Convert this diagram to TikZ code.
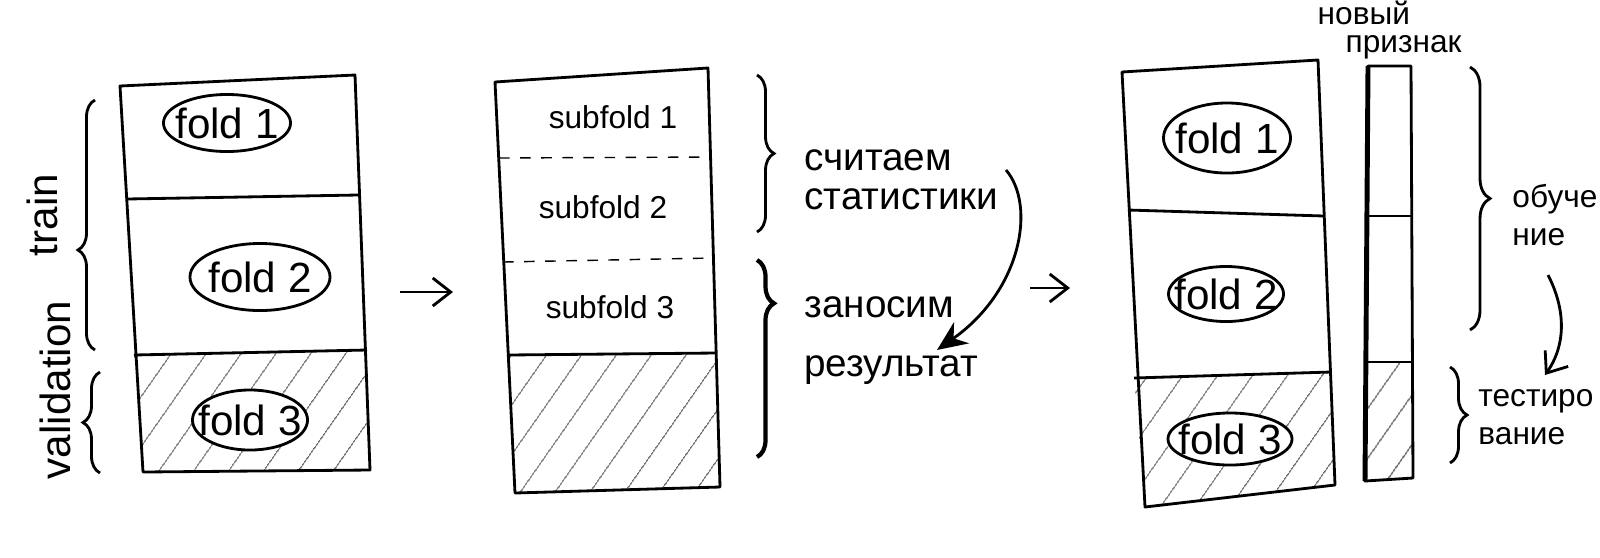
\documentclass[tikz,border=0pt]{standalone}
\usepackage{fontspec}
\setmainfont{Liberation Sans}
\usetikzlibrary{shapes.geometric, decorations.pathreplacing, patterns.meta, arrows.meta}

\begin{document}
\begin{tikzpicture}[x=0.01cm, y=-0.01cm, >={Straight Barb[length=1.8mm,width=2.8mm]},
  box/.style={thick, line join=round},
  fold/.style={draw, thick, ellipse, fill=white, inner sep=0pt, font=\fontsize{12}{12}\selectfont},
  sub/.style={font=\fontsize{9}{9}\selectfont},
  note/.style={font=\fontsize{11}{11}\selectfont, align=left, anchor=west},
  side/.style={font=\fontsize{12}{12}\selectfont, rotate=90},
  hatch/.style={pattern={Lines[angle=55,distance=2.8mm,line width=0.4pt]}, pattern color=black!60},
  curly/.style={thick, decorate, decoration={brace, amplitude=#1}},
  curly/.default=1.7mm]
\useasboundingbox (0,0) rectangle (1600,557);
% left: train / validation split
\fill[hatch] (134,355) -- (367,350) -- (370,470) -- (143,472) -- cycle;
\draw[box] (120,86) -- (355,75) -- (370,470) -- (143,472) -- cycle;
\draw[box] (127,199) -- (358,195);
\draw[box] (134,355) -- (367,350);
\node[fold, minimum width=1.27cm, minimum height=0.57cm] (lf1) at (227,123) {\makebox[0pt]{fold 1}};
\node[fold, minimum width=1.40cm, minimum height=0.67cm] (lf2) at (260,277) {\makebox[0pt]{fold 2}};
\node[fold, minimum width=1.15cm, minimum height=0.60cm] (lf3) at (250,420) {\makebox[0pt]{fold 3}};
\draw[curly, decoration={aspect=0.4}] (95,350) -- (95,100);
\draw[curly] (100,473) -- (100,372);
\node[side] (tr) at (42,215) {train};
\node[side] (val) at (55,390) {validation};
% arrow to the middle panel
\coordinate (a1s) at (400,292);
\coordinate (a1e) at (453,292);
\draw[->, thick] (a1s) -- (a1e);
% middle: subfolds of the train part
\fill[hatch] (508,355) -- (716,353) -- (720,487) -- (515,493) -- cycle;
\draw[box] (495,82) -- (708,68) -- (720,487) -- (515,493) -- cycle;
\draw[dashed] (499,158) -- (711,157);
\draw[dashed] (503,262) -- (713,258);
\draw[box] (508,355) -- (716,353);
\node[sub] (s1) at (613,117) {subfold 1};
\node[sub] (s2) at (603,207) {subfold 2};
\node[sub] (s3) at (610,307) {subfold 3};
\draw[curly] (757,75) -- (757,232);
\draw[curly, very thick, decoration={aspect=0.22}] (757,260) -- (757,457);
\node[note] (stats) at (792,180) {считаем\\статистики};
\node[note] (zan) at (792,307) {заносим};
\node[note] (res) at (792,370) {результат};
\coordinate (c1) at (1006,170);
\coordinate (c2) at (937,350);
\draw[-{Stealth[length=3mm,width=2.6mm]}, thick] (c1) .. controls (1036,205) and (1022,290) .. (c2);
% arrow to the right panel
\coordinate (a2s) at (1030,288);
\coordinate (a2e) at (1070,288);
\draw[->, thick] (a2s) -- (a2e);
% right: folds with the new feature column
\fill[hatch] (1134,378) -- (1331,372) -- (1335,485) -- (1145,507) -- cycle;
\draw[box] (1122,72) -- (1318,60) -- (1335,485) -- (1145,507) -- cycle;
\draw[box] (1128,210) -- (1324,216);
\draw[box] (1134,378) -- (1331,372);
\node[fold, minimum width=1.27cm, minimum height=0.70cm] (rf1) at (1227,138) {\makebox[0pt]{fold 1}};
\node[fold, minimum width=1.15cm, minimum height=0.55cm] (rf2) at (1226,294) {\makebox[0pt]{fold 2}};
\node[fold, minimum width=1.24cm, minimum height=0.52cm] (rf3) at (1230,439) {\makebox[0pt]{fold 3}};
\fill[hatch] (1366,362) -- (1412,362) -- (1413,478) -- (1365,481) -- cycle;
\draw[box] (1368,66) -- (1411,66) -- (1413,478) -- (1365,481) -- cycle;
\draw[line width=1.4pt] (1368,66) -- (1365,481);
\draw[box] (1367,216) -- (1412,216);
\draw[box] (1366,362) -- (1412,362);
\node[font=\fontsize{9}{8}\selectfont, align=left, anchor=west, inner sep=0pt] (newfeat) at (1317,30) {новый\\\hspace*{2.8mm}признак};
\draw[curly=2mm] (1470,67) -- (1470,330);
\draw[curly] (1450,367) -- (1450,463);
\node[note, font=\fontsize{9}{11}\selectfont] (obu) at (1500,215) {обуче\\ние};
\node[note, font=\fontsize{9}{11}\selectfont] (test) at (1466,417) {тестиро\\вание};
\coordinate (d1) at (1548,275);
\coordinate (d2) at (1545,375);
\draw[->, thick] (d1) .. controls (1566,310) and (1566,345) .. (d2);
\end{tikzpicture}
\end{document}
